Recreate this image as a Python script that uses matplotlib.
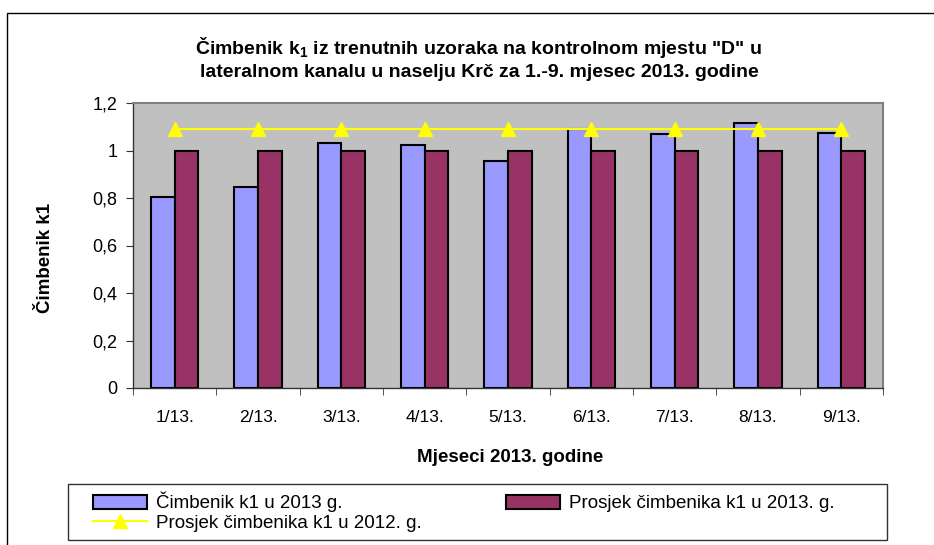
import matplotlib
matplotlib.use("Agg")
import matplotlib.pyplot as plt
from matplotlib.patches import Rectangle
import numpy as np

plt.rcParams["font.family"] = ["Liberation Sans", "DejaVu Sans"]
plt.rcParams["mathtext.fontset"] = "custom"
plt.rcParams["mathtext.rm"] = "Liberation Sans:bold"
plt.rcParams["mathtext.bf"] = "Liberation Sans:bold"

months = ["1/13.", "2/13.", "3/13.", "4/13.", "5/13.", "6/13.", "7/13.", "8/13.", "9/13."]
k1_2013 = [0.805, 0.848, 1.033, 1.023, 0.957, 1.09, 1.068, 1.117, 1.075]
avg_2013 = [1.0, 1.0, 1.0, 1.0, 1.0, 1.0, 1.0, 1.0, 1.0]
avg_2012 = [1.09, 1.09, 1.09, 1.09, 1.09, 1.09, 1.09, 1.09, 1.09]

yticks = [0, 0.2, 0.4, 0.6, 0.8, 1.0, 1.2]
ytick_labels = ["0", "0,2", "0,4", "0,6", "0,8", "1", "1,2"]

W, H = 934, 545
fig = plt.figure(figsize=(W / 100, H / 100), dpi=100)
ax = fig.add_axes([133 / W, 1 - 388 / H, 750 / W, 285 / H])
ax.set_facecolor("#C0C0C0")

x = np.arange(len(months))
w = 0.2857
b1 = ax.bar(x - w / 2, k1_2013, w, color="#9999FF", edgecolor="black", linewidth=1.5,
            zorder=2)
b2 = ax.bar(x + w / 2, avg_2013, w, color="#993366", edgecolor="black", linewidth=1.5,
            zorder=2)
ln, = ax.plot(x, avg_2012, color="#FFFF00", linewidth=1.5, marker="^", markersize=10,
              markerfacecolor="#FFFF00", markeredgecolor="#FFFF00", zorder=3)

ax.set_xlim(-0.5, len(months) - 0.5)
ax.set_ylim(0, 1.2)
ax.set_yticks(yticks)
ax.set_yticklabels(ytick_labels, fontsize=13)
ax.set_xticks(x)
ax.set_xticklabels(months, fontsize=12.5)
ax.set_xticks(np.arange(-0.5, len(months)), minor=True)
ax.tick_params(axis="x", which="major", length=0, pad=16)
ax.tick_params(axis="x", which="minor", length=5, direction="out", color="#333333")
ax.tick_params(axis="y", length=5, direction="out", color="#333333", pad=6)

for s in ["top", "right"]:
    ax.spines[s].set_color("#808080")
    ax.spines[s].set_linewidth(1.5)
for s in ["left", "bottom"]:
    ax.spines[s].set_color("#333333")
    ax.spines[s].set_linewidth(1.0)

fig.text(46 / W, 1 - 258 / H, "Čimbenik k1", rotation=90, ha="center", va="center",
         fontsize=13.5, fontweight="bold")
fig.text(510 / W, 1 - 458 / H, "Mjeseci 2013. godine", ha="center", va="center",
         fontsize=13.5, fontweight="bold")

fig.text(479 / W, 1 - 58 / H,
         "Čimbenik k$_{1}$ iz trenutnih uzoraka na kontrolnom mjestu \"D\" u\n"
         "lateralnom kanalu u naselju Krč za 1.-9. mjesec 2013. godine",
         ha="center", va="center", fontsize=14, fontweight="bold", linespacing=1.35)

# legend frame drawn separately (wide side padding)
fig.patches.append(Rectangle((68 / W, 1 - 540 / H), (887 - 68) / W, 56 / H,
                             transform=fig.transFigure, facecolor="white",
                             edgecolor="#333333", linewidth=1.0))
leg = fig.legend([b1, ln, b2],
                 ["Čimbenik k1 u 2013 g.", "Prosjek čimbenika k1 u 2012. g.",
                  "Prosjek čimbenika k1 u 2013. g."],
                 loc="upper left", bbox_to_anchor=(93 / W, 1 - 492 / H),
                 ncol=2, fontsize=13.5, frameon=False,
                 handlelength=2.9, handleheight=0.7,
                 handletextpad=0.45, columnspacing=4.5, labelspacing=0.12,
                 borderpad=0, borderaxespad=0)

fig.patches.append(Rectangle((7 / W, -0.1), 1.1, 1 - 13 / H + 0.1,
                             transform=fig.transFigure, fill=False,
                             edgecolor="black", linewidth=1.0))

fig.savefig("out.png", dpi=100)
